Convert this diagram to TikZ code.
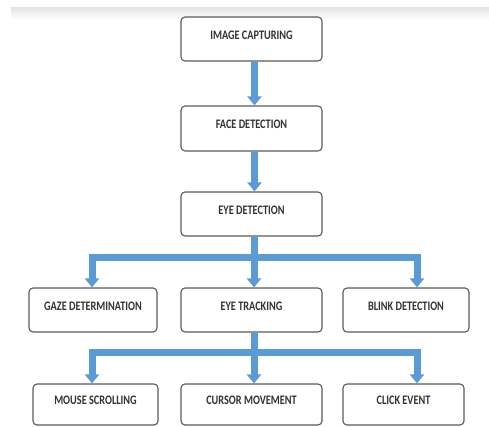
\documentclass[tikz,border=0pt]{standalone}
\usepackage{fontspec}
\setmainfont{Carlito}[FakeStretch=0.79]
\usetikzlibrary{arrows.meta}
\definecolor{arrowblue}{HTML}{5B9BD5}
\definecolor{boxline}{HTML}{5A5A5A}
\definecolor{txt}{HTML}{333333}
\begin{document}
\begin{tikzpicture}[x=1pt,y=-1pt,
  box/.style={draw=boxline,line width=1.1pt,rounded corners=4pt,fill=white,inner sep=0pt,
    text height=0pt,text depth=0pt,text=txt,font=\fontsize{13}{13}\selectfont\bfseries},
  flow/.style={draw=arrowblue,line width=7pt,line join=miter,-{Triangle[width=14pt,length=9pt]}},
  bus/.style={draw=arrowblue,line width=7pt,line join=miter,{Triangle[width=14pt,length=9pt]}-{Triangle[width=14pt,length=9pt]}}]
\useasboundingbox (0,0) rectangle (489,426);
\shade[top color=gray!22,bottom color=white] (11,7) rectangle (489,19);

\node[box,minimum width=141pt,minimum height=44pt] (cap) at (251.5,39) {IMAGE CAPTURING};
\node[box,minimum width=141pt,minimum height=45pt] (face) at (251.5,128.5) {FACE DETECTION};
\node[box,minimum width=141pt,minimum height=44pt] (eye) at (251.5,214) {EYE DETECTION};

\node[box,minimum width=128pt,minimum height=44pt] (gaze) at (93,310) {GAZE DETERMINATION};
\node[box,minimum width=141pt,minimum height=44pt] (track) at (251.5,310) {EYE TRACKING};
\node[box,minimum width=126pt,minimum height=44pt] (blink) at (406,310) {BLINK DETECTION};

\node[box,minimum width=125pt,minimum height=41pt] (mouse) at (95.5,404.5) {MOUSE SCROLLING};
\node[box,minimum width=141pt,minimum height=41pt] (cursor) at (251.5,404.5) {CURSOR MOVEMENT};
\node[box,minimum width=121pt,minimum height=41pt] (click) at (403.5,404.5) {CLICK EVENT};

\coordinate (b1) at (254,257);
\coordinate (b2) at (254,352);

\draw[flow] ([xshift=3pt]cap.south) -- ([xshift=3pt]face.north);
\draw[flow] ([xshift=3pt]face.south) -- ([xshift=3pt]eye.north);
\draw[bus] ([xshift=-1pt]gaze.north) |- (b1) -| ([xshift=11pt]blink.north);
\draw[flow] ([xshift=2.5pt]eye.south) -- ([xshift=2.5pt]track.north);
\draw[bus] ([xshift=-3.5pt]mouse.north) |- (b2) -| ([xshift=13.5pt]click.north);
\draw[flow] ([xshift=2.5pt]track.south) -- ([xshift=2.5pt]cursor.north);
\end{tikzpicture}
\end{document}
